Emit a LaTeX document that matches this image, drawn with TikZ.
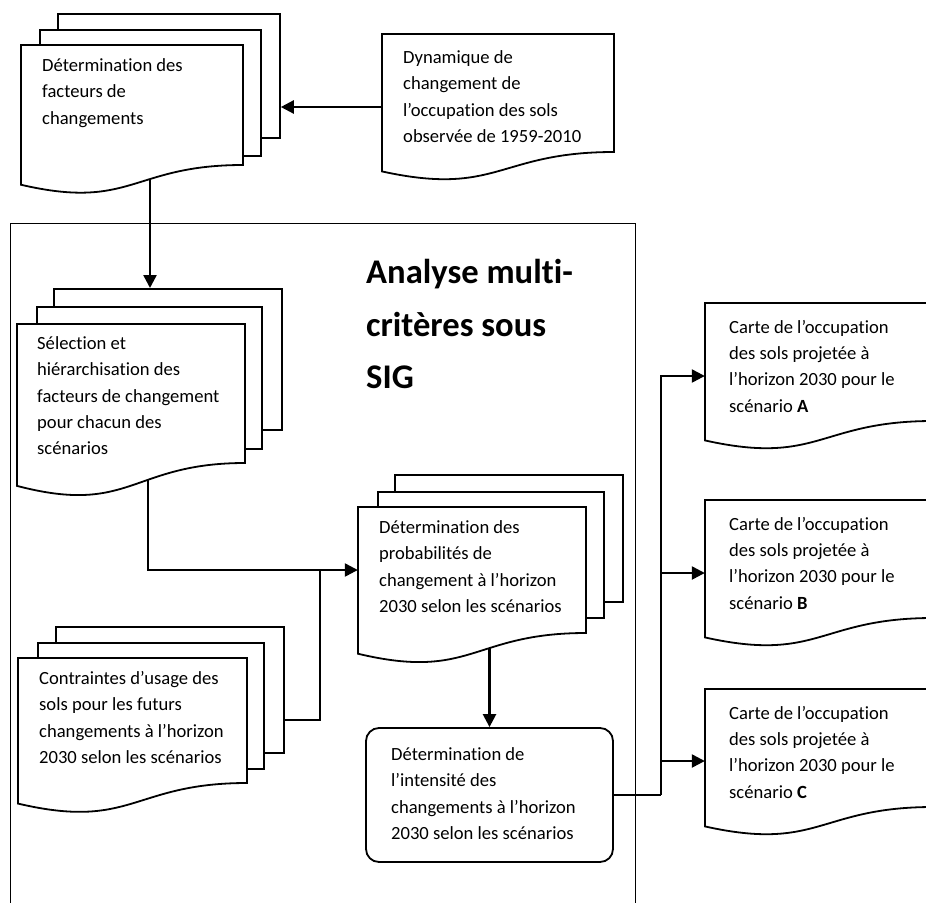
\documentclass[tikz,border=0pt]{standalone}
\usepackage{fontspec}
\setmainfont{Carlito}[Ligatures=NoCommon]
\usetikzlibrary{arrows.meta,calc}
\pgfdeclarelayer{background}
\pgfsetlayers{background,main}
\newcommand\bodyfont{\fontsize{18.6pt}{26.3pt}\selectfont}
\newcommand\titlefont{\fontsize{34.6pt}{52.5pt}\selectfont\bfseries}
\tikzset{
  docline/.style={line width=1.8pt, draw=black, fill=white, line join=miter},
  backpage/.style={docline, inner sep=0pt, anchor=north west},
  txt/.style={anchor=north west, inner sep=0pt, align=left, font=\bodyfont},
  conn/.style={line width=2.4pt, line join=miter},
  arr/.style={conn, -{Triangle[length=13pt,width=13pt]}},
  framebox/.style={draw, line width=1.2pt, inner sep=0pt, anchor=north west},
}
% name, x1, ytop, x2, ybottom-right
\newcommand\docpage[5]{%
  \draw[docline] (#2,#3) -- (#4,#3) -- (#4,#5)
    .. controls ({(#2+#4)/2},#5) and ({(#2+#4)/2},{#5+0.38*(#5-#3)}) ..
    (#2,{#5+0.1646*(#5-#3)}) -- cycle;
  \node[inner sep=0pt, minimum width={(#4-#2)*1pt}, minimum height={(#5-#3)*1pt}]
    (#1) at ({(#2+#4)/2},{(#3+#5)/2}) {};
}
\begin{document}
\begin{tikzpicture}[x=1pt, y=-1pt]
\useasboundingbox (0,0) rectangle (926,902);

% container (its bottom edge lies below the picture)
\node[framebox, minimum width=625pt, minimum height=700pt] (sig) at (10,223) {};

% document 1
\node[backpage, minimum width=222pt, minimum height=124pt] (d1b3) at (57,13) {};
\node[backpage, minimum width=221pt, minimum height=126pt] (d1b2) at (39,29) {};
\docpage{d1}{21}{45}{243}{165}

% dynamique
\docpage{dyn}{382}{34}{614}{152}

% document 2
\node[backpage, minimum width=228pt, minimum height=141pt] (d2b3) at (53,288) {};
\node[backpage, minimum width=225pt, minimum height=142pt] (d2b2) at (36,306) {};
\docpage{d2}{17}{324}{245}{463}

% document 3
\node[backpage, minimum width=228pt, minimum height=127pt] (d3b3) at (394,474) {};
\node[backpage, minimum width=226pt, minimum height=126pt] (d3b2) at (377,491) {};
\docpage{d3}{358}{507}{586}{633}

% document 4
\node[backpage, minimum width=228pt, minimum height=126pt] (d4b3) at (55,626) {};
\node[backpage, minimum width=226pt, minimum height=126pt] (d4b2) at (37,642) {};
\docpage{d4}{18}{658}{247}{783}

% rounded box
\node[draw, fill=white, line width=1.8pt, rounded corners=13pt, inner sep=0pt,
      minimum width=247pt, minimum height=134pt] (rb) at (489.5,795) {};

% output maps
\docpage{cA}{705}{303}{933}{421}
\docpage{cB}{705}{500}{933}{618}
\docpage{cC}{705}{689}{933}{807}

% texts
\node[txt] (d1t) at (42,52.8) {\strut Détermination des\\facteurs de\\changements};
\node[txt] (dynt) at (403,44.8) {\strut Dynamique de\\changement de\\l’occupation des sols\\observée de 1959-2010};
\node[txt] (d2t) at (37,331) {\strut Sélection et\\hiérarchisation des\\facteurs de changement\\pour chacun des\\scénarios};
\node[txt] (d3t) at (379,515) {\strut Détermination des\\probabilités de\\changement à l’horizon\\2030 selon les scénarios};
\node[txt] (d4t) at (39,666) {\strut Contraintes d’usage des\\sols pour les futurs\\changements à l’horizon\\2030 selon les scénarios};
\node[txt] (rbt) at (391,742) {\strut Détermination de\\l’intensité des\\changements à l’horizon\\2030 selon les scénarios};
\node[txt] (cAt) at (729,314.5) {\strut Carte de l’occupation\\des sols projetée à\\l’horizon 2030 pour le\\scénario \textbf{A}};
\node[txt] (cBt) at (729,511.5) {\strut Carte de l’occupation\\des sols projetée à\\l’horizon 2030 pour le\\scénario \textbf{B}};
\node[txt] (cCt) at (729,700.5) {\strut Carte de l’occupation\\des sols projetée à\\l’horizon 2030 pour le\\scénario \textbf{C}};
\node[anchor=north west, inner sep=0pt, align=left, font=\titlefont] (title) at (366,246.6)
  {\strut Analyse multi-\\critères sous\\SIG};

% connectors
\begin{pgfonlayer}{background}
  \draw[arr] ([yshift=-14pt]dyn.west) -- ([yshift=-14pt]dyn.west -| d1b3.east);
  \draw[arr] ([xshift=18pt]d1.south) -- ([xshift=18pt]d1.south |- d2b3.north);
  \draw[arr] ([xshift=17pt]d2.south) |- (d3.west);
  \coordinate (j) at ($(d3.west)+(-38,0)$);
  \draw[conn] ([yshift=-30pt]d4b3.east) -| (j);
  \draw[arr] (d3.south -| rb.north) -- (rb.north);
  \coordinate (t) at ($(rb.east)+(47,0)$);
  \draw[conn] (rb.east) -- (t);
  \draw[arr] (t) |- ([yshift=-14pt]cA.west);
  \draw[arr] (t) |- ([yshift=-14pt]cB.west);
  \draw[arr] (t) |- ([yshift=-13pt]cC.west);
\end{pgfonlayer}
\end{tikzpicture}
\end{document}
